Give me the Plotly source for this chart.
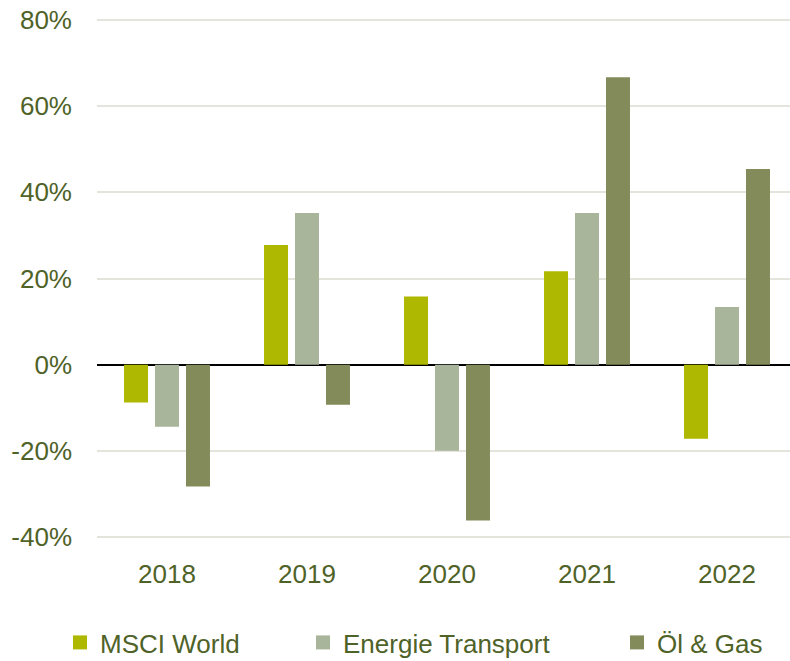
import plotly.graph_objects as go

years = ["2018", "2019", "2020", "2021", "2022"]
msci_world = [-8.8, 27.8, 15.8, 21.7, -17.2]
energie_transport = [-14.4, 35.2, -20.0, 35.2, 13.4]
oel_gas = [-28.3, -9.3, -36.2, 66.7, 45.4]

series_names = ["MSCI World", "Energie Transport", "Öl & Gas"]
series_colors = ["#AFB800", "#A9B59A", "#848B5A"]

y_tickvals = [-40, -20, 0, 20, 40, 60, 80]
y_ticktext = ["-40%", "-20%", "0%", "20%", "40%", "60%", "80%"]

W, H = 790, 661
L, R, T, B = 97, 0, 19, 123
plot_w = W - L - R
plot_h = H - T - B

text_color = "#4F6228"
font_family = "Liberation Sans, Arial, sans-serif"

fig = go.Figure()
legend_left_px = [60, 303, 617]
legend_ids = ["legend", "legend2", "legend3"]
for name, vals, col, lid in zip(series_names, [msci_world, energie_transport, oel_gas], series_colors, legend_ids):
    fig.add_trace(go.Bar(x=years, y=vals, name=name, marker=dict(color=col, line=dict(width=0)),
                         showlegend=False))
    fig.add_trace(go.Scatter(x=[None], y=[None], mode="markers", name=name,
                             marker=dict(symbol="square", size=14, color=col, line=dict(width=0)),
                             legend=lid, showlegend=True))

legend_y = -(B + 5) / plot_h
legend_common = dict(orientation="h", yanchor="bottom", y=legend_y, xanchor="left",
                     font=dict(size=26, color=text_color, family=font_family),
                     bgcolor="rgba(0,0,0,0)", borderwidth=0, itemwidth=30)
layout_legends = {}
for lid, lx in zip(legend_ids, legend_left_px):
    layout_legends[lid] = dict(legend_common, x=(lx - L) / plot_w)

fig.update_layout(
    width=W, height=H,
    margin=dict(l=L, r=R, t=T, b=B, pad=0, autoexpand=False),
    paper_bgcolor="white", plot_bgcolor="white",
    barmode="group", bargap=0.336, bargroupgap=0.226,
    font=dict(family=font_family, size=26, color=text_color),
    showlegend=True,
    xaxis=dict(type="category", range=[-0.5, 4.45], showgrid=False, showline=False,
               ticks="", ticklabelstandoff=18, automargin=False,
               tickfont=dict(size=26, color=text_color)),
    yaxis=dict(range=[-40.25, 80.25], tickvals=y_tickvals, ticktext=y_ticktext,
               showgrid=True, gridcolor="#E4E4DC", gridwidth=1.5,
               zeroline=True, zerolinecolor="#000000", zerolinewidth=1.5,
               showline=False, ticks="", ticklabelstandoff=24, automargin=False,
               ticklabeloverflow="allow",
               tickfont=dict(size=26, color=text_color)),
    **layout_legends,
)

fig.write_html("out.html", config={"displayModeBar": False},
               post_script="document.body.style.margin='0';document.body.style.overflow='hidden';")
